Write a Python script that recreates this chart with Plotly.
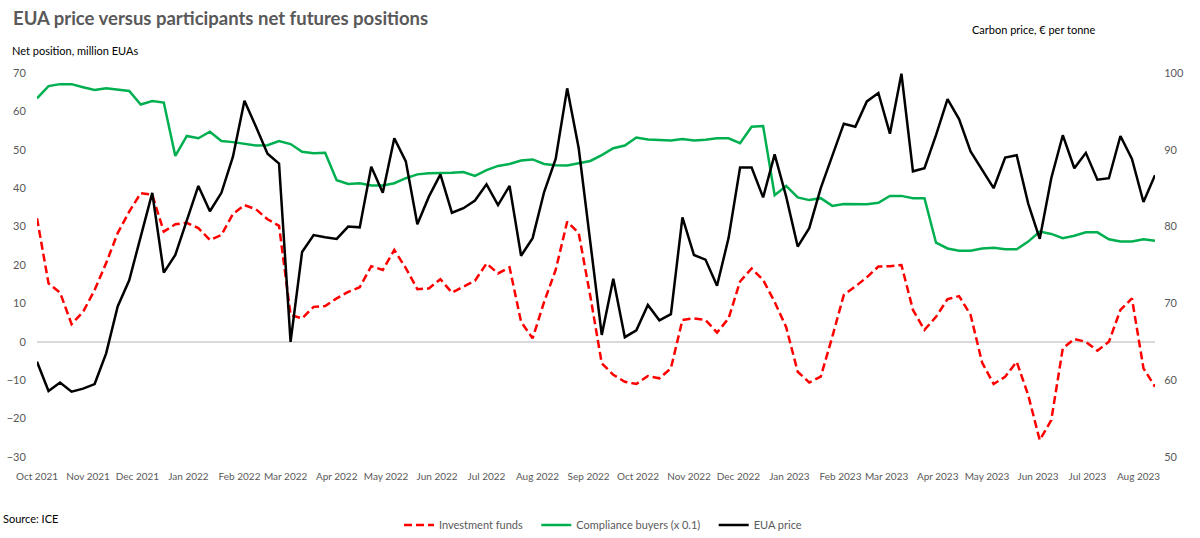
import pandas as pd
import plotly.graph_objects as go

# Weekly observation dates (Tuesday COT reports)
start_date = "2021-10-05"
n_weeks = 98

investment_funds = [
    32.2, 15.2, 12.8, 4.6, 7.8, 13.5, 20.5, 28.3, 33.9, 38.7,
    38.3, 28.7, 30.6, 31.0, 29.6, 26.5, 27.8, 33.3, 35.6, 34.5,
    31.9, 30.2, 7.0, 6.1, 9.1, 9.3, 11.3, 13.0, 14.2, 19.7,
    18.7, 23.9, 19.2, 13.7, 13.9, 16.3, 12.8, 14.4, 15.9, 20.4,
    17.8, 19.4, 5.2, 0.9, 10.4, 18.7, 31.3, 28.3, 12.0, -5.6,
    -8.6, -10.4, -11.0, -8.9, -9.5, -6.9, 5.7, 6.1, 5.7, 2.4,
    6.1, 15.7, 19.1, 16.1, 10.4, 3.8, -7.8, -10.6, -9.1, 1.3,
    12.2, 14.4, 16.8, 19.6, 19.7, 20.0, 8.3, 3.1, 6.5, 11.1,
    11.9, 7.0, -5.4, -11.0, -9.1, -5.2, -13.9, -25.6, -20.4, -1.7,
    0.7, 0.0, -2.3, 0.0, 8.3, 11.3, -6.9, -11.7,
]

compliance_buyers = [
    63.4, 66.6, 67.1, 67.1, 66.3, 65.6, 66.0, 65.6, 65.3, 61.8,
    62.7, 62.3, 48.4, 53.6, 53.0, 54.7, 52.3, 52.0, 51.5, 51.1,
    51.2, 52.3, 51.5, 49.5, 49.1, 49.2, 42.1, 41.1, 41.3, 40.7,
    40.7, 41.3, 42.6, 43.6, 43.9, 43.9, 44.0, 44.2, 43.2, 44.7,
    45.8, 46.3, 47.2, 47.5, 46.3, 46.0, 45.9, 46.5, 47.1, 48.6,
    50.4, 51.1, 53.2, 52.7, 52.6, 52.4, 52.8, 52.4, 52.6, 53.0,
    53.0, 51.7, 56.0, 56.2, 38.2, 40.6, 37.6, 36.9, 37.4, 35.4,
    35.9, 35.8, 35.8, 36.2, 38.0, 38.0, 37.4, 37.4, 25.8, 24.3,
    23.7, 23.7, 24.3, 24.5, 24.1, 24.1, 26.1, 28.7, 28.1, 27.0,
    27.6, 28.5, 28.5, 26.7, 26.1, 26.1, 26.7, 26.3,
]

eua_price = [
    62.4, 58.6, 59.7, 58.5, 58.9, 59.5, 63.5, 69.6, 73.0, 78.6,
    84.4, 74.0, 76.3, 80.8, 85.3, 82.0, 84.4, 89.1, 96.4, 93.0,
    89.5, 88.2, 65.0, 76.7, 78.9, 78.6, 78.4, 80.0, 79.9, 87.8,
    84.4, 91.5, 88.5, 80.3, 83.9, 86.8, 81.8, 82.4, 83.4, 85.5,
    82.8, 85.3, 76.2, 78.5, 84.5, 88.8, 98.0, 90.2, 78.1, 65.9,
    73.2, 65.6, 66.5, 69.8, 67.8, 68.6, 81.2, 76.3, 75.7, 72.3,
    78.5, 87.7, 87.7, 83.8, 89.4, 83.9, 77.4, 79.8, 85.0, 89.2,
    93.4, 93.0, 96.3, 97.4, 92.1, 99.9, 87.2, 87.6, 91.9, 96.6,
    94.0, 89.8, 87.4, 85.0, 89.0, 89.3, 83.0, 78.4, 86.3, 91.9,
    87.6, 89.6, 86.1, 86.3, 91.8, 88.8, 83.2, 86.7,
]

tick_labels = [
    "Oct 2021", "Nov 2021", "Dec 2021", "Jan 2022", "Feb 2022", "Mar 2022",
    "Apr 2022", "May 2022", "Jun 2022", "Jul 2022", "Aug 2022", "Sep 2022",
    "Oct 2022", "Nov 2022", "Dec 2022", "Jan 2023", "Feb 2023", "Mar 2023",
    "Apr 2023", "May 2023", "Jun 2023", "Jul 2023", "Aug 2023",
]

dates = pd.date_range(start_date, periods=n_weeks, freq="7D")
tick_vals = pd.date_range(start_date, periods=len(tick_labels), freq=pd.DateOffset(months=1))

FONT = "Lato"
GREY = "#595959"
PAD = "\u00a0\u00a0\u00a0"

fig = go.Figure()
fig.add_trace(go.Scatter(
    x=dates, y=investment_funds, name="Investment funds" + PAD, mode="lines",
    line=dict(color="#FF0000", width=2.5, dash="8px,4px"),
))
fig.add_trace(go.Scatter(
    x=dates, y=compliance_buyers, name="Compliance buyers (x 0.1)" + PAD, mode="lines",
    line=dict(color="#00B050", width=2.5),
))
fig.add_trace(go.Scatter(
    x=dates, y=eua_price, name="EUA price", mode="lines", yaxis="y2",
    line=dict(color="#000000", width=2.5),
))

W, H = 1200, 538
L, R, T, B = 37, 1155, 73, 457
pw, ph = R - L, B - T

def px(x):
    return (x - L) / pw

def py(y):
    return (B - y) / ph

fig.update_layout(
    width=W, height=H,
    margin=dict(l=L, r=W - R, t=T, b=H - B, autoexpand=False),
    paper_bgcolor="white", plot_bgcolor="white",
    font=dict(family=FONT, size=11, color=GREY),
    showlegend=True,
    legend=dict(
        orientation="h", x=px(603), xanchor="center", y=py(525), yanchor="middle",
        font=dict(family=FONT, size=11, color=GREY), itemwidth=30,
        traceorder="normal",
    ),
    xaxis=dict(
        type="date", range=[dates[0], dates[-1]],
        tickvals=tick_vals, ticktext=tick_labels,
        showgrid=False, zeroline=False, showline=False, automargin=False,
        ticks="outside", ticklen=10, tickcolor="rgba(0,0,0,0)",
        tickfont=dict(family=FONT, size=10, color=GREY),
        tickangle=0,
    ),
    yaxis=dict(
        range=[-30, 70], dtick=10, tick0=0, automargin=False,
        showgrid=False, zeroline=True, zerolinecolor="#D9D9D9", zerolinewidth=1.5,
        showline=False, ticks="outside", ticklen=8, tickcolor="rgba(0,0,0,0)",
        tickfont=dict(family=FONT, size=11, color=GREY),
    ),
    yaxis2=dict(
        range=[50, 100], dtick=10, tick0=50, overlaying="y", side="right",
        showgrid=False, zeroline=False, showline=False, automargin=False,
        ticks="outside", ticklen=6, tickcolor="rgba(0,0,0,0)",
        tickfont=dict(family=FONT, size=11, color=GREY),
    ),
    annotations=[
        dict(text="<b>EUA price versus participants net futures positions</b>",
             xref="paper", yref="paper", x=px(11), y=py(18), xanchor="left", yanchor="middle",
             showarrow=False, font=dict(family=FONT, size=18.5, color=GREY)),
        dict(text="Net position, million EUAs",
             xref="paper", yref="paper", x=px(10), y=py(50), xanchor="left", yanchor="middle",
             showarrow=False, font=dict(family=FONT, size=11, color="#000000")),
        dict(text="Carbon price, € per tonne",
             xref="paper", yref="paper", x=px(970), y=py(29), xanchor="left", yanchor="middle",
             showarrow=False, font=dict(family=FONT, size=11, color="#000000")),
        dict(text="Source: ICE",
             xref="paper", yref="paper", x=px(1), y=py(518), xanchor="left", yanchor="middle",
             showarrow=False, font=dict(family=FONT, size=11, color="#000000")),
    ],
)

fig.write_html(
    "out.html",
    config={"displayModeBar": False},
    post_script="document.body.style.margin='0';",
)
